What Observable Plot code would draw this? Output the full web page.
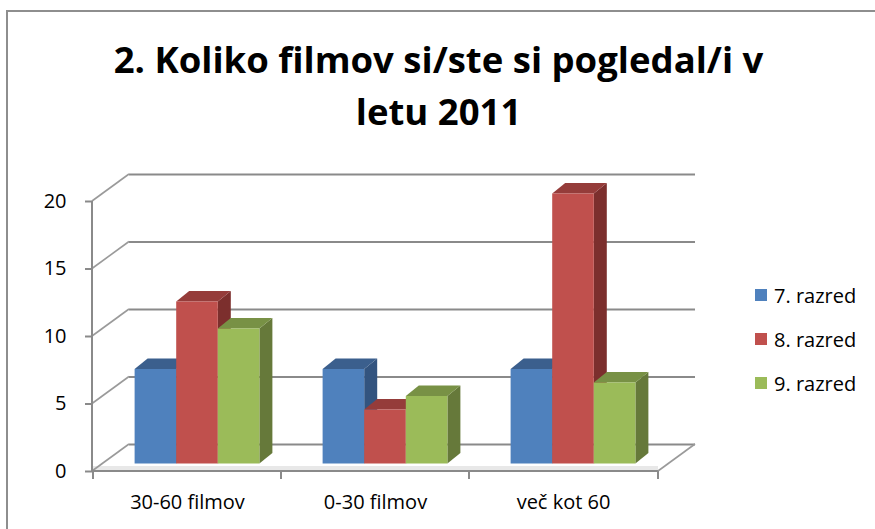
<!DOCTYPE html>
<html>
<head>
<meta charset="utf-8">
<script src="https://cdn.jsdelivr.net/npm/d3@7"></script>
<script src="https://cdn.jsdelivr.net/npm/@observablehq/plot@0.6"></script>
<style>
  html, body { margin: 0; padding: 0; background: #ffffff; }
  #wrap { position: relative; width: 875px; height: 529px; overflow: hidden; font-family: "Open Sans", sans-serif; color: #000; }
  #border { position: absolute; left: 6px; top: 10px; width: 900px; height: 600px; border-top: 2px solid #8e8e8e; border-left: 2px solid #8e8e8e; }
  #chart { position: absolute; left: 0; top: 0; }
  #title { position: absolute; left: 0; top: 33px; width: 877px; text-align: center; font-weight: 700; font-size: 36.5px; line-height: 52px; white-space: nowrap; }
  #legend { position: absolute; left: 755px; top: 281px; font-size: 20px; }
  .item { display: flex; align-items: center; height: 28px; margin-bottom: 16px; }
  .sw { width: 12px; height: 12px; margin-right: 7px; }
</style>
</head>
<body>
<div id="wrap">
  <div id="border"></div>
  <div id="chart"></div>
  <div id="title">2. Koliko filmov si/ste si pogledal/i v<br>letu 2011</div>
  <div id="legend"></div>
</div>
<script>
const categories = ["30-60 filmov", "0-30 filmov", "več kot 60"];
const series = ["7. razred", "8. razred", "9. razred"];
const values7 = [7, 7, 7];
const values8 = [12, 4, 20];
const values9 = [10, 5, 6];
const yTicks = [0, 5, 10, 15, 20];

const frontColors = ["#4F81BD", "#C0504D", "#9BBB59"];
const topColors = ["#3B5F8D", "#953C3A", "#789145"];
const sideColors = ["#33547F", "#7C2F2D", "#66793A"];

const DEPTH = [37, -27];
const BAR_OFF = [10, -7.5];
const BAR_DEPTH = [13, -10.5];

const seriesValues = [values7, values8, values9];
const rows = [];
categories.forEach((c, ci) => series.forEach((s, si) => rows.push({category: c, series: s, value: seriesValues[si][ci]})));

function frame3d(index, scales, values, dimensions) {
  const {marginLeft, marginRight, width} = dimensions;
  const x0 = marginLeft, x1 = width - marginRight, y0 = scales.y(0);
  const g = d3.create("svg:g");
  g.append("rect").attr("x", x0).attr("y", y0 - 5).attr("width", x1 - x0).attr("height", 5).attr("fill", "#e8e8e8");
  for (const t of yTicks) {
    g.append("line").attr("x1", x0).attr("y1", scales.y(t)).attr("x2", x0 + DEPTH[0]).attr("y2", scales.y(t) + DEPTH[1])
      .attr("stroke", "#9a9a9a").attr("stroke-width", 1.6);
  }
  g.append("line").attr("x1", x1).attr("y1", y0).attr("x2", x1 + DEPTH[0]).attr("y2", y0 + DEPTH[1])
    .attr("stroke", "#9a9a9a").attr("stroke-width", 1.6);
  return g.node();
}

function axes3d(index, scales, values, dimensions) {
  const {marginLeft, marginRight, width} = dimensions;
  const x0 = marginLeft, x1 = width - marginRight, y0 = scales.y(0);
  const g = d3.create("svg:g").attr("stroke", "#8a8a8a").attr("stroke-width", 2);
  g.append("line").attr("x1", x0).attr("y1", y0).attr("x2", x1).attr("y2", y0);
  g.append("line").attr("x1", x0).attr("y1", scales.y(d3.max(yTicks))).attr("x2", x0).attr("y2", y0);
  const bounds = categories.map(c => scales.x(c)).concat([x1]);
  for (const b of bounds) g.append("line").attr("x1", b).attr("y1", y0).attr("x2", b).attr("y2", y0 + 8);
  return g.node();
}

function bars3d(index, scales, values) {
  const bw = scales.x.bandwidth();
  const sub = d3.scaleBand(series, [0, bw]).paddingInner(0).paddingOuter(0.76);
  const w = sub.bandwidth();
  const g = d3.create("svg:g");
  const pos = i => values.x[i] + sub(rows[i].series);
  const order = Array.from(index).sort((a, b) => pos(a) - pos(b));
  const [ddx, ddy] = BAR_DEPTH;
  for (const i of order) {
    const s = series.indexOf(rows[i].series);
    const xa = pos(i) + BAR_OFF[0];
    const xb = xa + w;
    const yt = Math.min(values.y1[i], values.y2[i]) + BAR_OFF[1];
    const yb = Math.max(values.y1[i], values.y2[i]) + BAR_OFF[1];
    g.append("path").attr("d", `M${xb},${yt}L${xb + ddx},${yt + ddy}L${xb + ddx},${yb + ddy}L${xb},${yb}Z`).attr("fill", sideColors[s]);
    g.append("path").attr("d", `M${xa},${yt}L${xa + ddx},${yt + ddy}L${xb + ddx},${yt + ddy}L${xb},${yt}Z`).attr("fill", topColors[s]);
    g.append("rect").attr("x", xa).attr("y", yt).attr("width", w).attr("height", yb - yt).attr("fill", frontColors[s]);
  }
  return g.node();
}

const chart = Plot.plot({
  width: 875,
  height: 529,
  marginLeft: 92,
  marginRight: 217,
  marginTop: 201,
  marginBottom: 58,
  style: {fontFamily: "Open Sans", fontSize: "20px", color: "#000", background: "transparent", overflow: "visible"},
  x: {domain: categories, padding: 0, label: null},
  y: {domain: [0, 20], label: null},
  color: {domain: series, range: frontColors},
  marks: [
    Plot.ruleY(yTicks, {dx: DEPTH[0], dy: DEPTH[1], stroke: "#8a8a8a", strokeWidth: 2}),
    frame3d,
    Plot.barY(rows, {x: "category", y1: 0, y2: "value", fill: "series", render: bars3d}),
    axes3d,
    Plot.axisY(yTicks, {tickSize: 7, tickPadding: 19, stroke: "#8a8a8a", strokeWidth: 2, label: null}),
    Plot.axisX({tickSize: 0, tickPadding: 23, label: null})
  ]
});
document.getElementById("chart").appendChild(chart);

const legend = d3.select("#legend");
series.forEach((s, i) => {
  const item = legend.append("div").attr("class", "item");
  item.append("div").attr("class", "sw").style("background", frontColors[i]);
  item.append("span").text(s);
});
</script>
</body>
</html>
